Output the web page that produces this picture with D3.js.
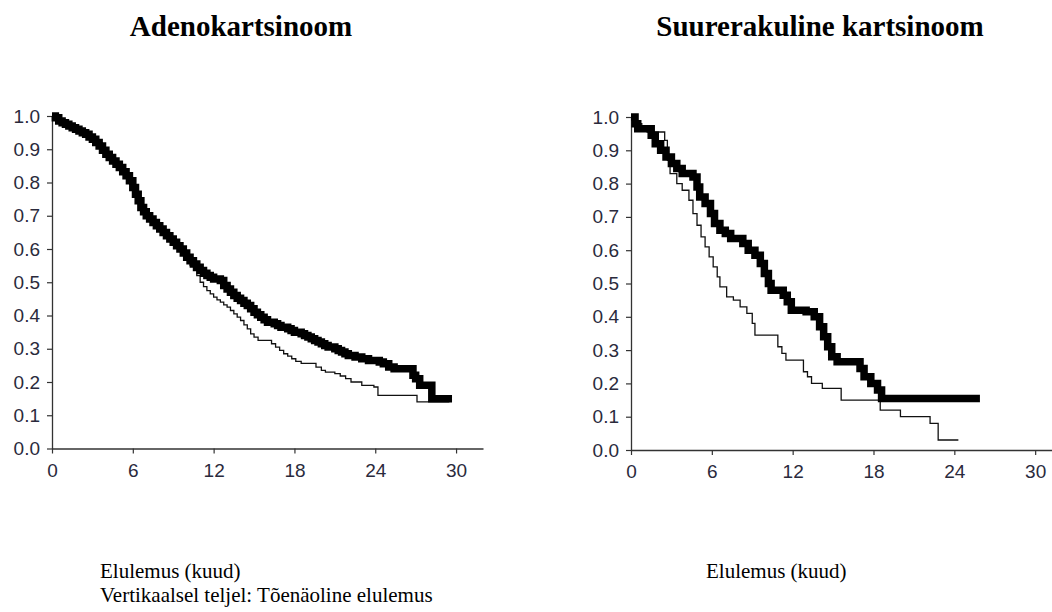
<!DOCTYPE html>
<html>
<head>
<meta charset="utf-8">
<script src="https://cdn.jsdelivr.net/npm/d3@7"></script>
<style>
  body { margin: 0; background: #fff; }
  svg { display: block; }
</style>
</head>
<body>
<svg id="chart" width="1052" height="612"></svg>
<script>
// Axis ticks and texts
const xTicks = [0, 6, 12, 18, 24, 30];
const yTicks = [0, 0.1, 0.2, 0.3, 0.4, 0.5, 0.6, 0.7, 0.8, 0.9, 1.0];
const panelTitles = ["Adenokartsinoom", "Suurerakuline kartsinoom"];
const xAxisLabel = "Elulemus (kuud)";
const yAxisNote = "Vertikaalsel teljel: Tõenäoline elulemus";

// Kaplan–Meier steps, [month, survival]
const adenoBold = [
  [0, 1.0], [0.25, 0.995], [0.5, 0.985], [0.75, 0.98], [1, 0.975], [1.25, 0.97], [1.5, 0.965],
  [1.75, 0.96], [2, 0.955], [2.25, 0.95], [2.5, 0.945], [2.75, 0.937], [3, 0.93], [3.25, 0.92],
  [3.5, 0.91], [3.75, 0.897], [4, 0.885], [4.25, 0.875], [4.5, 0.865], [4.75, 0.855], [5, 0.845],
  [5.25, 0.832], [5.5, 0.82], [5.75, 0.805], [6, 0.785], [6.2, 0.765], [6.4, 0.745], [6.6, 0.725],
  [6.8, 0.712], [7, 0.70], [7.25, 0.69], [7.5, 0.68], [7.75, 0.67], [8, 0.66], [8.25, 0.65],
  [8.5, 0.64], [8.75, 0.63], [9, 0.62], [9.25, 0.61], [9.5, 0.60], [9.75, 0.588], [10, 0.575],
  [10.25, 0.565], [10.5, 0.555], [10.75, 0.545], [11, 0.535], [11.25, 0.527], [11.5, 0.52],
  [11.75, 0.515], [12, 0.51], [12.5, 0.505], [12.75, 0.49], [13, 0.48], [13.25, 0.47],
  [13.5, 0.46], [13.75, 0.452], [14, 0.445], [14.25, 0.437], [14.5, 0.43], [14.75, 0.42],
  [15, 0.41], [15.25, 0.402], [15.5, 0.395], [15.75, 0.387], [16, 0.38], [16.5, 0.375],
  [16.75, 0.37], [17, 0.365], [17.5, 0.36], [17.75, 0.355], [18, 0.35], [18.5, 0.345],
  [18.75, 0.34], [19, 0.335], [19.25, 0.33], [19.5, 0.325], [19.75, 0.32], [20, 0.315],
  [20.25, 0.31], [20.5, 0.305], [21, 0.30], [21.25, 0.295], [21.5, 0.29], [21.75, 0.285],
  [22, 0.28], [22.5, 0.275], [23, 0.27], [23.5, 0.265], [24.3, 0.26], [24.6, 0.255],
  [25, 0.245], [25.4, 0.24], [26.8, 0.22], [27.0, 0.21], [27.3, 0.19], [28.2, 0.15], [29.7, 0.15]
];
const adenoThin = [
  [0, 1.0], [0.25, 0.995], [0.5, 0.985], [0.75, 0.98], [1, 0.975], [1.25, 0.97], [1.5, 0.965],
  [1.75, 0.96], [2, 0.955], [2.25, 0.95], [2.5, 0.945], [2.75, 0.937], [3, 0.93], [3.25, 0.92],
  [3.5, 0.91], [3.75, 0.897], [4, 0.885], [4.25, 0.875], [4.5, 0.865], [4.75, 0.855], [5, 0.845],
  [5.25, 0.832], [5.5, 0.82], [5.75, 0.805], [6, 0.785], [6.2, 0.765], [6.4, 0.745], [6.6, 0.725],
  [6.8, 0.712], [7, 0.70], [7.25, 0.69], [7.5, 0.68], [7.75, 0.67], [8, 0.66], [8.25, 0.65],
  [8.5, 0.64], [8.75, 0.63], [9, 0.62], [9.25, 0.61], [9.5, 0.60], [9.75, 0.588], [10, 0.575],
  [10.25, 0.55], [10.5, 0.535], [10.75, 0.52], [11, 0.50], [11.25, 0.487], [11.5, 0.475],
  [11.75, 0.465], [12, 0.455], [12.25, 0.447], [12.5, 0.44], [12.75, 0.432], [13, 0.425],
  [13.25, 0.415], [13.5, 0.405], [13.75, 0.395], [14, 0.385], [14.25, 0.372], [14.5, 0.36],
  [14.75, 0.345], [15, 0.335], [15.3, 0.325], [16.3, 0.315], [16.6, 0.305], [16.9, 0.295],
  [17.2, 0.285], [17.5, 0.278], [17.8, 0.27], [18.1, 0.262], [18.5, 0.256], [19.6, 0.245],
  [20, 0.235], [20.3, 0.23], [21, 0.225], [21.4, 0.218], [21.8, 0.21], [22.2, 0.20],
  [23, 0.19], [23.9, 0.185], [24.2, 0.16], [27.1, 0.14], [29.5, 0.14]
];
const largeBold = [
  [0, 1.0], [0.3, 0.98], [0.5, 0.965], [1.5, 0.945], [1.8, 0.92], [2.2, 0.90], [2.6, 0.88],
  [3.0, 0.86], [3.4, 0.845], [3.8, 0.83], [4.6, 0.82], [4.9, 0.79], [5.1, 0.76], [5.5, 0.74],
  [5.9, 0.71], [6.2, 0.68], [6.6, 0.66], [7.0, 0.65], [7.4, 0.635], [8.3, 0.62], [8.7, 0.60],
  [9.2, 0.585], [9.6, 0.56], [9.9, 0.53], [10.2, 0.50], [10.4, 0.48], [11.3, 0.465],
  [11.6, 0.445], [11.9, 0.42], [13.0, 0.415], [13.6, 0.40], [14.0, 0.37], [14.3, 0.34],
  [14.6, 0.31], [14.9, 0.28], [15.3, 0.265], [17.0, 0.245], [17.3, 0.22], [17.8, 0.20],
  [18.3, 0.18], [18.6, 0.155], [25.9, 0.155]
];
const largeThin = [
  [0, 1.0], [0.4, 0.98], [0.8, 0.965], [1.2, 0.955], [2.5, 0.93], [2.7, 0.87], [2.9, 0.83],
  [3.4, 0.80], [3.8, 0.78], [4.3, 0.75], [4.6, 0.71], [4.9, 0.675], [5.2, 0.64], [5.5, 0.61],
  [5.8, 0.58], [6.1, 0.55], [6.4, 0.52], [6.6, 0.49], [7.1, 0.46], [7.6, 0.45], [8.1, 0.43],
  [8.6, 0.41], [9.0, 0.38], [9.2, 0.345], [10.9, 0.31], [11.2, 0.29], [11.5, 0.27],
  [12.8, 0.235], [13.1, 0.22], [13.4, 0.20], [14.2, 0.185], [15.6, 0.15], [18.5, 0.12],
  [20.0, 0.10], [22.2, 0.08], [22.8, 0.03], [24.3, 0.03]
];

const panels = [
  { title: panelTitles[0], bold: adenoBold, thin: adenoThin,
    left: 52, right: 483, xEnd: 32, top: 116, bottom: 448.5, titleX: 241, labelX: 100 },
  { title: panelTitles[1], bold: largeBold, thin: largeThin,
    left: 631, right: 1052, xEnd: 31.25, top: 117, bottom: 450, titleX: 820, labelX: 706 }
];

const svg = d3.select("#chart");
const tickFont = "'Liberation Sans', Arial, sans-serif";
const textFont = "'Liberation Serif', 'Times New Roman', serif";
const tickColor = "#2a2a3c";

panels.forEach(p => {
  const x = d3.scaleLinear().domain([0, p.xEnd]).range([p.left, p.right]);
  const y = d3.scaleLinear().domain([0, 1]).range([p.bottom, p.top]);
  const g = svg.append("g");

  // panel title
  svg.append("text")
    .attr("x", p.titleX).attr("y", 36)
    .attr("text-anchor", "middle")
    .style("font-family", textFont).style("font-weight", "bold").style("font-size", "29px")
    .text(p.title);

  // axes
  const xAxis = g.append("g")
    .attr("transform", `translate(0,${p.bottom})`)
    .call(d3.axisBottom(x).tickValues(xTicks).tickSize(5).tickSizeOuter(0).tickPadding(10)
      .tickFormat(d3.format("d")));
  const yAxis = g.append("g")
    .attr("transform", `translate(${p.left},0)`)
    .call(d3.axisLeft(y).tickValues(yTicks).tickSize(5).tickSizeOuter(0).tickPadding(7)
      .tickFormat(d3.format(".1f")));
  [xAxis, yAxis].forEach(a => {
    a.select(".domain").attr("stroke", "#333").attr("stroke-width", 1.3);
    a.selectAll(".tick line").attr("stroke", "#333").attr("stroke-width", 1.2);
    a.selectAll(".tick text")
      .style("font-family", tickFont).style("font-size", "19px").attr("fill", tickColor);
  });

  const line = d3.line()
    .x(d => x(d[0])).y(d => y(d[1]))
    .curve(d3.curveStepAfter);

  g.append("path").datum(p.thin)
    .attr("d", line).attr("fill", "none")
    .attr("stroke", "#111").attr("stroke-width", 1.3);
  g.append("path").datum(p.bold)
    .attr("d", line).attr("fill", "none")
    .attr("stroke", "#000").attr("stroke-width", 7.5)
    .attr("stroke-linejoin", "miter").attr("stroke-linecap", "butt");

  // x-axis caption
  svg.append("text")
    .attr("x", p.labelX).attr("y", 578)
    .style("font-family", textFont).style("font-size", "21px")
    .text(xAxisLabel);
});

svg.append("text")
  .attr("x", 100).attr("y", 602)
  .style("font-family", textFont).style("font-size", "21px")
  .text(yAxisNote);
</script>
</body>
</html>
